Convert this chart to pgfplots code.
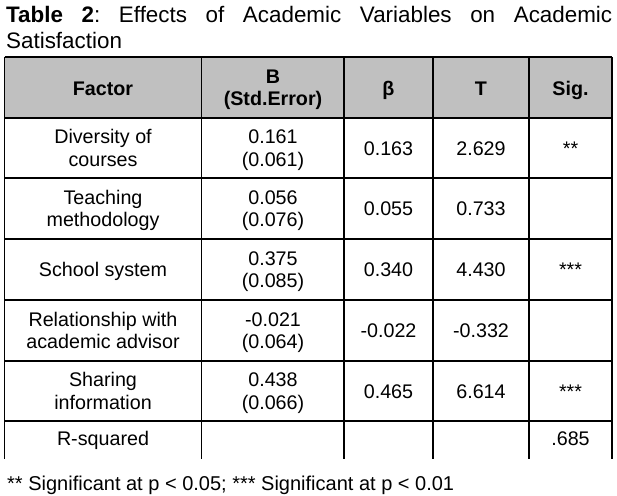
\documentclass[border=0pt]{standalone}
\usepackage{pgfplots}
\pgfplotsset{compat=1.18}
\usepackage{fontspec}
\setmainfont{Liberation Sans}
\definecolor{hdrgray}{RGB}{192,192,192}
\newcommand\bodyfont{\fontsize{19.7}{22.7}\selectfont}
\newcommand\titlefont{\fontsize{22.4}{25.6}\selectfont}
\newcommand\notefont{\fontsize{20}{23}\selectfont}
\frenchspacing
\begin{document}
\begin{tikzpicture}
\begin{axis}[
  width=617pt, height=495pt, scale only axis,
  xmin=0, xmax=617, ymin=0, ymax=495, y dir=reverse,
  hide axis, clip=false,
]
\fill[white] (axis cs:0,0) rectangle (axis cs:617,495);
% title
\node[anchor=base west, inner sep=0pt, font=\titlefont] at (axis cs:6,22.7)
  {\hbox to 606pt{\frenchspacing\textbf{Table 2}: Effects of Academic Variables on Academic}};
\node[anchor=base west, inner sep=0pt, font=\titlefont] at (axis cs:6,48.3) {Satisfaction};
% header fill
\fill[hdrgray] (axis cs:4.5,57) rectangle (axis cs:612,118);
% grid
\pgfplotsinvokeforeach{57,118,178,239,300,361,421}{
  \draw[line width=1.3pt, black] (axis cs:4.5,#1) -- (axis cs:612,#1);
}
\pgfplotsinvokeforeach{4.5,201.7,344,433,529,612}{
  \draw[line width=1.3pt, black] (axis cs:#1,57) -- (axis cs:#1,459);
}
% header text
\begin{scope}[every node/.style={anchor=base, inner sep=0pt, font=\bodyfont\bfseries}]
\node at (axis cs:103,95.5) {Factor};
\node at (axis cs:273,83) {B};
\node at (axis cs:273,105.7) {(Std.Error)};
\node at (axis cs:388.5,95.5) {β};
\node at (axis cs:481,95.5) {T};
\node at (axis cs:570.5,95.5) {Sig.};
\end{scope}
% body
\begin{scope}[every node/.style={anchor=base, inner sep=0pt, font=\bodyfont}]
% row 1
\node at (axis cs:103,143.7) {Diversity of};
\node at (axis cs:103,166.4) {courses};
\node at (axis cs:273,143.7) {0.161};
\node at (axis cs:273,166.4) {(0.061)};
\node at (axis cs:388.5,155) {0.163};
\node at (axis cs:481,155) {2.629};
\node at (axis cs:570.5,155) {**};
% row 2
\node at (axis cs:103,204.2) {Teaching};
\node at (axis cs:103,226.9) {methodology};
\node at (axis cs:273,204.2) {0.056};
\node at (axis cs:273,226.9) {(0.076)};
\node at (axis cs:388.5,215.5) {0.055};
\node at (axis cs:481,215.5) {0.733};
% row 3
\node at (axis cs:103,276.5) {School system};
\node at (axis cs:273,265.2) {0.375};
\node at (axis cs:273,287.9) {(0.085)};
\node at (axis cs:388.5,276.5) {0.340};
\node at (axis cs:481,276.5) {4.430};
\node at (axis cs:570.5,276.5) {***};
% row 4
\node at (axis cs:103,326.2) {Relationship with};
\node at (axis cs:103,348.9) {academic advisor};
\node at (axis cs:273,326.2) {-0.021};
\node at (axis cs:273,348.9) {(0.064)};
\node at (axis cs:388.5,337.5) {-0.022};
\node at (axis cs:481,337.5) {-0.332};
% row 5
\node at (axis cs:103,386.7) {Sharing};
\node at (axis cs:103,409.4) {information};
\node at (axis cs:273,386.7) {0.438};
\node at (axis cs:273,409.4) {(0.066)};
\node at (axis cs:388.5,398) {0.465};
\node at (axis cs:481,398) {6.614};
\node at (axis cs:570.5,398) {***};
% row 6
\node at (axis cs:103,445.5) {R-squared};
\node at (axis cs:570.5,445.5) {.685};
\end{scope}
% footnote
\node[anchor=base west, inner sep=0pt, font=\notefont] at (axis cs:7,490.5)
  {** Significant at p < 0.05; *** Significant at p < 0.01};
\end{axis}
\end{tikzpicture}
\end{document}
